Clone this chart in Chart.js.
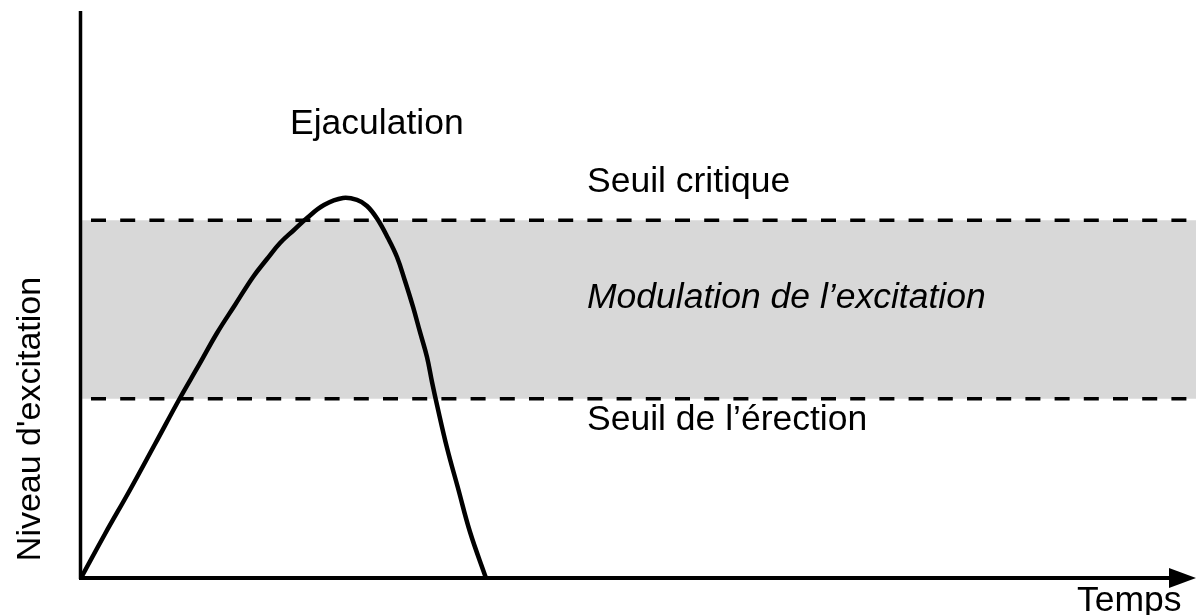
<!DOCTYPE html>
<html>
<head>
<meta charset="utf-8">
<script src="https://cdn.jsdelivr.net/npm/chart.js@4/dist/chart.umd.min.js"></script>
<style>
  html, body { margin: 0; padding: 0; background: #ffffff; }
  #wrap { width: 1196px; height: 615px; position: relative; }
</style>
</head>
<body>
<div id="wrap"><canvas id="c"></canvas></div>
<script>
// ---- Data (arbitrary units) ----
const timeValues = [0, 2.15, 4.39, 6.64, 8.88, 10.58, 12.20, 13.81, 15.43, 16.68, 17.85, 19.10, 20.27, 21.79, 23.50, 24.75, 25.65, 26.55, 27.53, 28.34, 29.06, 29.78, 30.40, 31.03, 31.48, 31.93, 32.83, 33.81, 34.89, 36.32];
const arousalValues = [0, 7.76, 15.52, 23.63, 31.75, 37.57, 43.21, 48.15, 53.09, 56.26, 59.08, 61.38, 63.49, 65.78, 67.02, 66.67, 65.61, 63.40, 59.96, 56.61, 52.38, 47.80, 43.39, 38.98, 34.57, 30.51, 22.93, 15.87, 8.11, 0];
const criticalThreshold = 63.1;   // Seuil critique
const erectionThreshold = 31.6;   // Seuil de l'érection
const timeRange = [0, 100];
const levelRange = [0, 100];

const labelEjaculation = "Ejaculation";
const labelCritical = "Seuil critique";
const labelModulation = "Modulation de l\u2019excitation";
const labelErection = "Seuil de l\u2019érection";
const labelXAxis = "Temps";
const labelYAxis = "Niveau d'excitation";

// ---- Build datasets ----
const curve = timeValues.map((t, i) => ({ x: t, y: arousalValues[i] }));
const hLine = (v) => [{ x: timeRange[0], y: v }, { x: timeRange[1], y: v }];

const FONT = '"Liberation Sans", Arial, sans-serif';

const decorPlugin = {
  id: 'decor',
  afterDraw(chart) {
    const ctx = chart.ctx;
    const xs = chart.scales.x, ys = chart.scales.y;
    const x0 = xs.getPixelForValue(timeRange[0]);
    const y0 = ys.getPixelForValue(levelRange[0]);
    const yTop = ys.getPixelForValue(levelRange[1]);
    const xEnd = xs.getPixelForValue(timeRange[1]);
    ctx.save();
    ctx.fillStyle = '#000';
    ctx.strokeStyle = '#000';
    // Y axis
    ctx.lineWidth = 3.5;
    ctx.beginPath();
    ctx.moveTo(x0 - 0.5, y0 + 1);
    ctx.lineTo(x0 - 0.5, yTop);
    ctx.stroke();
    // X axis with arrow
    ctx.lineWidth = 4;
    ctx.beginPath();
    ctx.moveTo(x0 - 2, y0);
    ctx.lineTo(xEnd - 22, y0);
    ctx.stroke();
    ctx.beginPath();
    ctx.moveTo(xEnd - 27, y0 - 10);
    ctx.lineTo(xEnd, y0);
    ctx.lineTo(xEnd - 27, y0 + 10);
    ctx.closePath();
    ctx.fill();

    // Texts
    ctx.textBaseline = 'alphabetic';
    ctx.textAlign = 'left';
    ctx.font = '35.5px ' + FONT;
    ctx.fillText(labelEjaculation, 290, 134);
    ctx.fillText(labelCritical, 587, 192);
    ctx.fillText(labelErection, 587, 430);
    ctx.fillText(labelXAxis, 1077, 611);
    ctx.font = 'italic 35.5px ' + FONT;
    ctx.fillText(labelModulation, 587, 308);
    // Y axis title
    ctx.font = '34px ' + FONT;
    ctx.translate(40, 419);
    ctx.rotate(-Math.PI / 2);
    ctx.textAlign = 'center';
    ctx.fillText(labelYAxis, 0, 0);
    ctx.restore();
  }
};

new Chart(document.getElementById('c'), {
  type: 'line',
  data: {
    datasets: [
      {
        label: 'curve',
        data: curve,
        borderColor: '#000',
        borderWidth: 4.5,
        borderJoinStyle: 'round',
        pointRadius: 0,
        tension: 0.4,
        fill: false,
        order: 0
      },
      {
        label: 'critical',
        data: hLine(criticalThreshold),
        borderColor: '#000',
        borderWidth: 3.5,
        borderDash: [15, 14.2],
        borderDashOffset: 19.2,
        pointRadius: 0,
        fill: false,
        order: 1
      },
      {
        label: 'erection',
        data: hLine(erectionThreshold),
        borderColor: '#000',
        borderWidth: 3.5,
        borderDash: [15, 14.2],
        borderDashOffset: 19.2,
        pointRadius: 0,
        fill: false,
        order: 1
      },
      {
        label: 'bandTop',
        data: hLine(criticalThreshold),
        borderWidth: 0,
        borderColor: 'rgba(0,0,0,0)',
        backgroundColor: '#d8d8d8',
        pointRadius: 0,
        fill: '+1',
        order: 2
      },
      {
        label: 'bandBottom',
        data: hLine(erectionThreshold),
        borderWidth: 0,
        borderColor: 'rgba(0,0,0,0)',
        pointRadius: 0,
        fill: false,
        order: 3
      }
    ]
  },
  options: {
    responsive: true,
    maintainAspectRatio: false,
    animation: false,
    layout: { padding: { left: 81, right: 0, top: 11, bottom: 37 } },
    plugins: { legend: { display: false }, tooltip: { enabled: false } },
    scales: {
      x: { type: 'linear', min: timeRange[0], max: timeRange[1], display: false },
      y: { type: 'linear', min: levelRange[0], max: levelRange[1], display: false }
    }
  },
  plugins: [decorPlugin]
});
</script>
</body>
</html>
